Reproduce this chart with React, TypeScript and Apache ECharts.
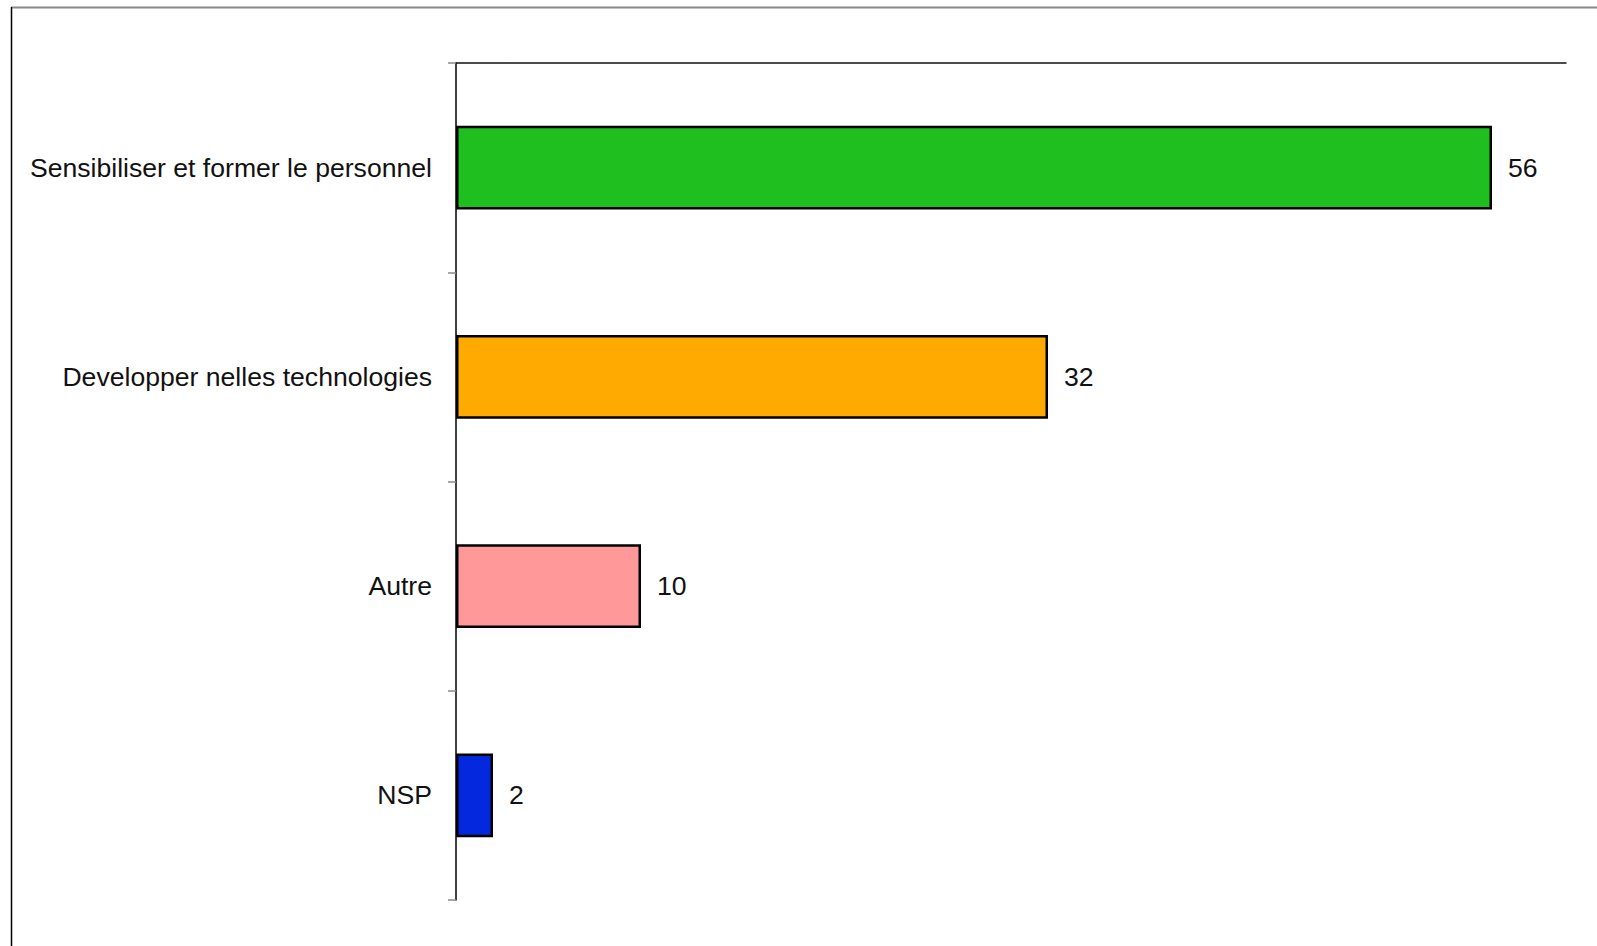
import React, { useEffect, useRef } from "react";
import * as echarts from "echarts";

const categories = [
  "Sensibiliser et former le personnel",
  "Developper nelles technologies",
  "Autre",
  "NSP",
];
const values = [56, 32, 10, 2];
const barColors = ["#1FBF1F", "#FFAA00", "#FF9999", "#0428DD"];

export default function App() {
  const ref = useRef<HTMLDivElement>(null);
  useEffect(() => {
    if (!ref.current) return;
    const chart = echarts.init(ref.current, null, { renderer: "svg" });
    chart.setOption({
      animation: false,
      backgroundColor: "#ffffff",
      textStyle: { fontFamily: "Liberation Sans, Arial, sans-serif" },
      grid: { left: 456, top: 63, right: 31, bottom: 46, containLabel: false },
      xAxis: {
        type: "value",
        position: "top",
        min: 0,
        max: 60,
        axisLine: { show: true, lineStyle: { color: "#111", width: 1.5 } },
        axisTick: { show: false },
        axisLabel: { show: false },
        splitLine: { show: false },
      },
      yAxis: {
        type: "category",
        inverse: true,
        data: categories,
        axisLine: { show: true, lineStyle: { color: "#000", width: 1.5 } },
        axisTick: { show: true, length: 8, interval: 0, lineStyle: { color: "#888", width: 1.5 } },
        axisLabel: {
          margin: 24,
          fontSize: 26.6,
          color: "#111",
          padding: [8, 0, 0, 0],
          fontFamily: "Liberation Sans, Arial, sans-serif",
        },
      },
      graphic: [
        {
          type: "line",
          shape: { x1: 11, y1: 7.5, x2: 1597, y2: 7.5 },
          style: { stroke: "#888", lineWidth: 2 },
        },
        {
          type: "line",
          shape: { x1: 11.5, y1: 7, x2: 11.5, y2: 946 },
          style: { stroke: "#000", lineWidth: 1.5 },
        },
      ],
      series: [
        {
          type: "bar",
          barWidth: "40%",
          data: values.map((v, i) => ({
            value: v,
            itemStyle: { color: barColors[i] },
          })),
          itemStyle: { borderColor: "#000", borderWidth: 2.5 },
          label: {
            show: true,
            position: "right",
            distance: 16,
            fontSize: 26.6,
            color: "#111",
            padding: [8, 0, 0, 0],
            fontFamily: "Liberation Sans, Arial, sans-serif",
          },
        },
      ],
    });
    return () => chart.dispose();
  }, []);
  return (
    <div
      ref={ref}
      style={{ position: "fixed", left: 0, top: 0, width: 1597, height: 946 }}
    />
  );
}
